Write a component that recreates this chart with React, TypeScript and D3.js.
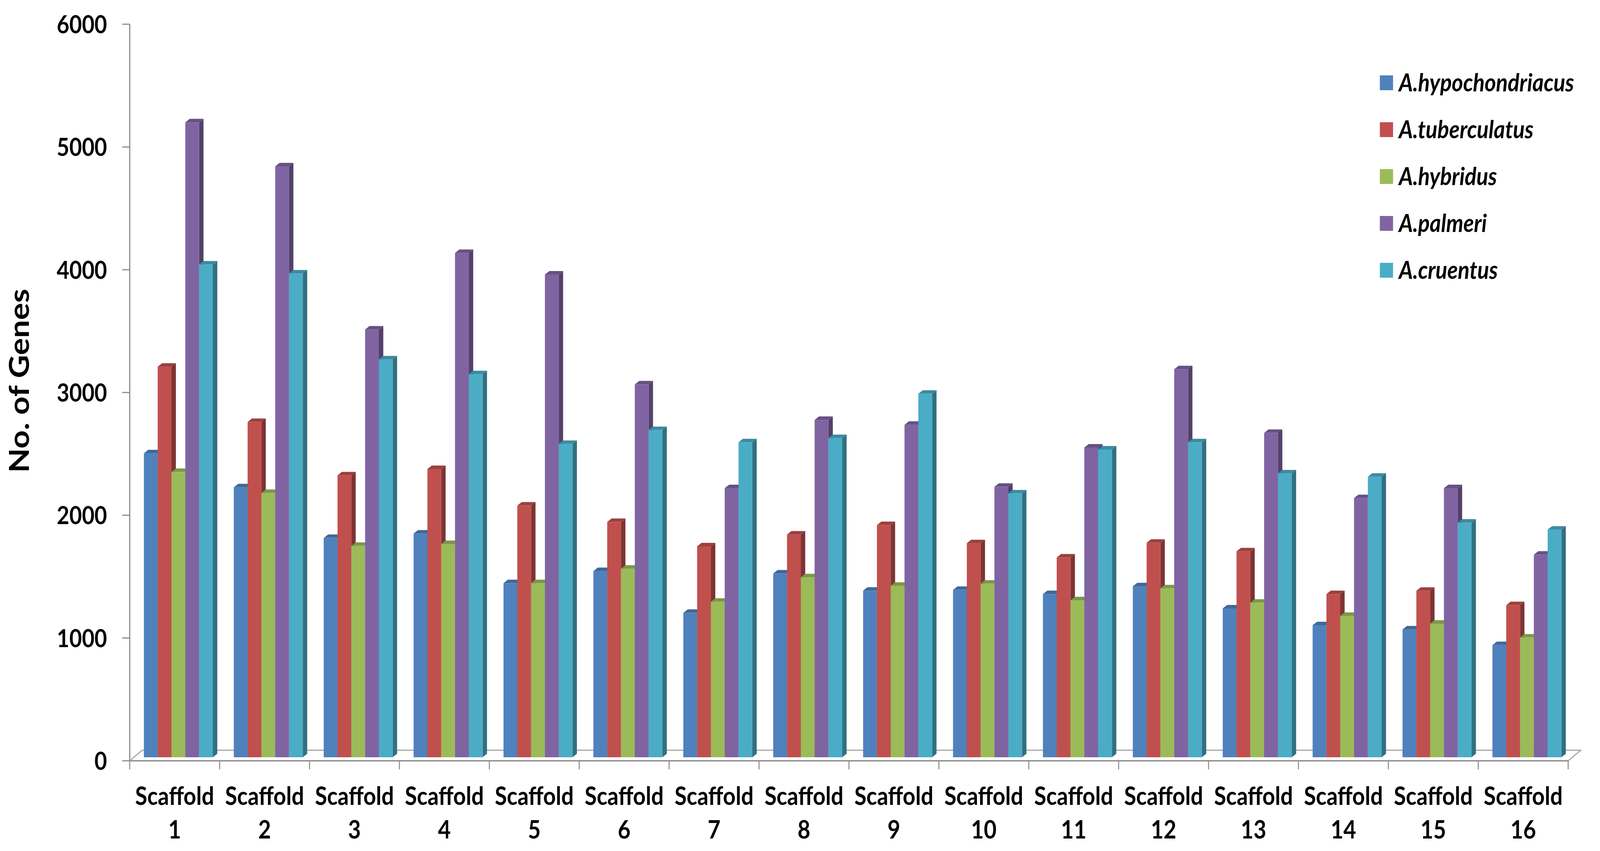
import React, { useEffect, useState } from "react";
import * as d3 from "d3";

const categories = [
  "1", "2", "3", "4", "5", "6", "7", "8",
  "9", "10", "11", "12", "13", "14", "15", "16",
];
const seriesNames = [
  "A.hypochondriacus",
  "A.tuberculatus",
  "A.hybridus",
  "A.palmeri",
  "A.cruentus",
];
const hypochondriacus = [2476, 2199, 1786, 1822, 1418, 1517, 1176, 1497, 1357, 1363, 1329, 1393, 1212, 1075, 1041, 914];
const tuberculatus = [3181, 2731, 2296, 2348, 2050, 1917, 1718, 1814, 1891, 1743, 1627, 1747, 1677, 1329, 1356, 1239];
const hybridus = [2324, 2153, 1722, 1737, 1418, 1536, 1267, 1466, 1397, 1414, 1279, 1376, 1259, 1152, 1088, 975];
const palmeri = [5172, 4813, 3484, 4108, 3932, 3037, 2192, 2748, 2708, 2203, 2523, 3161, 2642, 2111, 2192, 1650];
const cruentus = [4014, 3941, 3241, 3120, 2552, 2665, 2566, 2600, 2961, 2149, 2507, 2566, 2312, 2285, 1911, 1854];
const seriesColors = ["#4F81BD", "#C0504D", "#9BBB59", "#8064A2", "#4BACC6"];
const yTicks = [0, 1000, 2000, 3000, 4000, 5000, 6000];
const yTitle = "No. of Genes";
const catPrefix = "Scaffold";

const seriesValues = [hypochondriacus, tuberculatus, hybridus, palmeri, cruentus];

const W = 4724;
const H = 2179;
const FONT = "Lato, 'Open Sans', sans-serif";

export default function App() {
  const [vp, setVp] = useState({ w: W, h: H });
  useEffect(() => {
    document.body.style.margin = "0";
    document.body.style.overflow = "hidden";
    const upd = () => setVp({ w: window.innerWidth, h: window.innerHeight });
    upd();
    window.addEventListener("resize", upd);
    return () => window.removeEventListener("resize", upd);
  }, []);

  const axisX = 383;
  const axisRight = 4630;
  const y0 = 1948;
  const yTop = 62;
  const floorDx = 37;
  const floorDy = 27;
  const barShiftY = 9;
  const barShiftX = 11;
  const depthDx = 13;
  const depthDy = 9;

  const x = d3.scaleBand<string>().domain(categories).range([axisX, axisRight]).paddingInner(0).paddingOuter(0);
  const y = d3.scaleLinear().domain([0, 6000]).range([y0, yTop]);
  const bw = x.bandwidth();
  const barW = bw * 0.1535;
  const inner = d3.scaleBand<number>().domain(d3.range(seriesNames.length)).range([0, barW * seriesNames.length]);

  const axisColor = "#8c8c8c";
  const floorColor = "#a6a6a6";

  const bars: React.ReactNode[] = [];
  categories.forEach((c, ci) => {
    const gx = (x(c) as number) + (bw - barW * seriesNames.length) / 2 + barShiftX;
    seriesValues.forEach((vals, si) => {
      const v = vals[ci];
      const bx = gx + (inner(si) as number);
      const top = y(v) - barShiftY;
      const base = y(0) - barShiftY;
      const col = d3.color(seriesColors[si])!;
      const side = col.darker(1.2).formatHex();
      const topC = col.darker(0.6).formatHex();
      const sidePts = [
        [bx + barW, top],
        [bx + barW + depthDx, top - depthDy],
        [bx + barW + depthDx, base - depthDy],
        [bx + barW, base],
      ];
      const topPts = [
        [bx, top],
        [bx + depthDx, top - depthDy],
        [bx + barW + depthDx, top - depthDy],
        [bx + barW, top],
      ];
      bars.push(
        <g key={`b-${ci}-${si}`}>
          <polygon points={sidePts.map((p) => p.join(",")).join(" ")} fill={side} />
          <polygon points={topPts.map((p) => p.join(",")).join(" ")} fill={topC} />
          <rect x={bx} y={top} width={barW} height={base - top} fill={seriesColors[si]} />
        </g>
      );
    });
  });

  const boundaries = [...categories.map((c) => x(c) as number), axisRight];

  return (
    <svg
      width={vp.w}
      height={vp.h}
      viewBox={`0 0 ${W} ${H}`}
      preserveAspectRatio="none"
      style={{ position: "absolute", left: 0, top: 0, background: "#ffffff", display: "block" }}
    >
      <rect x={0} y={0} width={W} height={H} fill="#ffffff" />
      {/* floor (3D base) */}
      <polyline
        points={`${axisX},${y0} ${axisX + floorDx},${y0 - floorDy} ${axisRight + floorDx},${y0 - floorDy} ${axisRight},${y0}`}
        fill="none"
        stroke={floorColor}
        strokeWidth={3}
      />
      {bars}
      {/* category axis */}
      <line x1={axisX} y1={y0} x2={axisRight} y2={y0} stroke={axisColor} strokeWidth={3.5} />
      {boundaries.map((bx, i) => (
        <line key={`xt-${i}`} x1={bx} y1={y0} x2={bx} y2={y0 + 22} stroke={axisColor} strokeWidth={3} />
      ))}
      {/* value axis */}
      <line x1={axisX} y1={yTop} x2={axisX} y2={y0} stroke={axisColor} strokeWidth={3.5} />
      {yTicks.map((t) => (
        <g key={`yt-${t}`}>
          <line x1={axisX - 22} y1={y(t)} x2={axisX} y2={y(t)} stroke={axisColor} strokeWidth={3} />
          <text x={316} y={y(t)} dy="0.36em" textAnchor="end" fontFamily={FONT} fontWeight="bold" fontSize={64} fill="#000">
            {t}
          </text>
        </g>
      ))}
      {categories.map((c) => {
        const cx = (x(c) as number) + bw / 2;
        return (
          <text key={`xl-${c}`} x={cx} textAnchor="middle" fontFamily={FONT} fontWeight="bold" fontSize={65} fill="#000">
            <tspan x={cx} y={2061}>{catPrefix}</tspan>
            <tspan x={cx} y={2147}>{c}</tspan>
          </text>
        );
      })}
      <text transform={`translate(85, 975) rotate(-90)`} textAnchor="middle" fontFamily={FONT} fontWeight="bold" fontSize={82} fill="#000">
        {yTitle}
      </text>
      {seriesNames.map((n, i) => {
        const cy = 212 + i * 120;
        return (
          <g key={`lg-${i}`}>
            <rect x={4074} y={cy - 19} width={39} height={38} fill={seriesColors[i]} />
            <text x={4130} y={cy + 22} fontFamily={FONT} fontWeight="bold" fontStyle="italic" fontSize={64} fill="#000">
              {n}
            </text>
          </g>
        );
      })}
    </svg>
  );
}
